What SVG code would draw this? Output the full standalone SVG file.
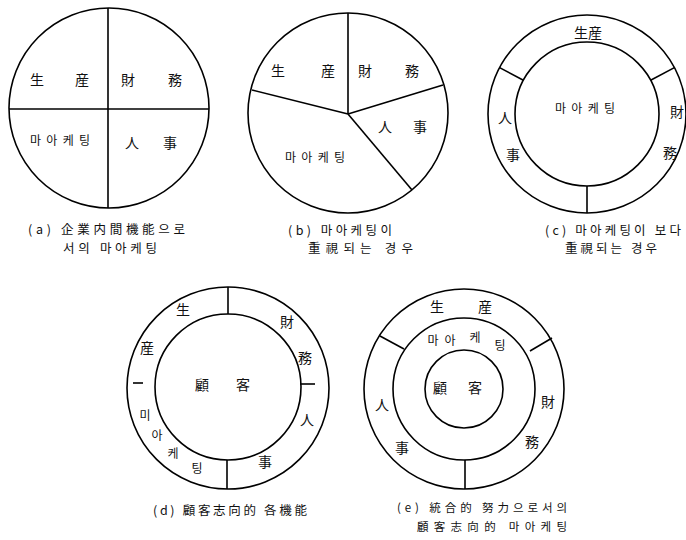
<svg xmlns="http://www.w3.org/2000/svg" width="686" height="540" viewBox="0 0 686 540">
<style>
.c{fill:none;stroke:#000;stroke-width:1.6}
.l{stroke:#000;stroke-width:1.6}
text{font-family:"Noto Sans CJK KR","Noto Sans CJK SC",sans-serif;fill:#111}
.t{font-size:14px;text-anchor:middle}
.h{font-size:12px;text-anchor:middle}
.cap{font-size:12.5px}
.cap2{font-size:11.5px}
</style>
<rect width="686" height="540" fill="#fff"/>
<g id="diagram-a">
<circle class="c" cx="109" cy="108" r="100"/>
<line class="l" x1="108" y1="8" x2="108" y2="208"/>
<line class="l" x1="9" y1="109" x2="209" y2="109"/>
<text class="t" x="37" y="85">生</text>
<text class="t" x="82" y="85">産</text>
<text class="t" x="128" y="85">財</text>
<text class="t" x="175" y="85">務</text>
<text class="h" x="60" y="145" textLength="60" lengthAdjust="spacing">마아케팅</text>
<text class="t" x="132" y="148">人</text>
<text class="t" x="170" y="148">事</text>
<text class="cap" x="28" y="234" textLength="157" lengthAdjust="spacing">(a) 企業内間機能으로</text>
<text class="cap" x="63" y="253" textLength="94" lengthAdjust="spacing">서의 마아케팅</text>
</g>
<g id="diagram-b">
<circle class="c" cx="348" cy="113" r="100"/>
<line class="l" x1="348" y1="114" x2="348" y2="13"/>
<line class="l" x1="348" y1="114" x2="252" y2="90"/>
<line class="l" x1="348" y1="114" x2="443" y2="85"/>
<line class="l" x1="348" y1="114" x2="412" y2="190"/>
<text class="t" x="278" y="76">生</text>
<text class="t" x="328" y="76">産</text>
<text class="t" x="365" y="76">財</text>
<text class="t" x="412" y="76">務</text>
<text class="t" x="385" y="132">人</text>
<text class="t" x="420" y="132">事</text>
<text class="h" x="315" y="162" textLength="60" lengthAdjust="spacing">마아케팅</text>
<text class="cap" x="288" y="235" textLength="104" lengthAdjust="spacing">(b) 마아케팅이</text>
<text class="cap" x="308" y="253" textLength="105" lengthAdjust="spacing">重視되는 경우</text>
</g>
<g id="diagram-c">
<circle class="c" cx="587" cy="114" r="99"/>
<circle class="c" cx="587" cy="114" r="72"/>
<line class="l" x1="523.4" y1="80.2" x2="499.6" y2="67.6"/>
<line class="l" x1="650.6" y1="80.2" x2="674.4" y2="67.6"/>
<line class="l" x1="587" y1="186" x2="587" y2="213"/>
<text class="t" x="588" y="38">生産</text>
<text class="h" x="585" y="113" textLength="60" lengthAdjust="spacing">마아케팅</text>
<text class="t" x="677" y="117">財</text>
<text class="t" x="670" y="158">務</text>
<text class="t" x="505" y="123">人</text>
<text class="t" x="513" y="160">事</text>
<text class="cap" x="545" y="235" textLength="136" lengthAdjust="spacing">(c) 마아케팅이 보다</text>
<text class="cap" x="565" y="253" textLength="92" lengthAdjust="spacing">重視되는 경우</text>
</g>
<g id="diagram-d">
<circle class="c" cx="228" cy="388" r="101"/>
<circle class="c" cx="228" cy="387" r="73"/>
<line class="l" x1="228" y1="287" x2="228" y2="314"/>
<line class="l" x1="227" y1="460" x2="227" y2="489"/>
<line class="l" x1="300" y1="384" x2="315" y2="384"/>
<line class="l" x1="133" y1="383" x2="143" y2="383" stroke-width="1.2"/>
<text class="t" x="183" y="315">生</text>
<text class="t" x="287" y="327">財</text>
<text class="t" x="305" y="363">務</text>
<text class="t" x="147" y="353">産</text>
<text class="h" x="145" y="420">미</text>
<text class="h" x="157" y="440">아</text>
<text class="h" x="173" y="458">케</text>
<text class="h" x="197" y="473">팅</text>
<text class="t" x="307" y="425">人</text>
<text class="t" x="265" y="467">事</text>
<text class="t" x="202" y="390">顧</text>
<text class="t" x="243" y="390">客</text>
<text class="cap" x="153" y="515" textLength="154" lengthAdjust="spacing">(d) 顧客志向的 各機能</text>
</g>
<g id="diagram-e">
<circle class="c" cx="464" cy="389" r="100"/>
<circle class="c" cx="464" cy="389" r="71"/>
<circle class="c" cx="464" cy="389" r="39"/>
<line class="l" x1="380" y1="336" x2="404" y2="349"/>
<line class="l" x1="552" y1="338" x2="530" y2="351"/>
<line class="l" x1="465" y1="460" x2="465" y2="489"/>
<text class="t" x="437" y="312">生</text>
<text class="t" x="485" y="312">産</text>
<text class="h" x="433" y="345">마</text>
<text class="h" x="450" y="345">아</text>
<text class="h" x="475" y="342">케</text>
<text class="h" x="500" y="350">팅</text>
<text class="t" x="440" y="393">顧</text>
<text class="t" x="475" y="393">客</text>
<text class="t" x="382" y="410">人</text>
<text class="t" x="402" y="453">事</text>
<text class="t" x="548" y="407">財</text>
<text class="t" x="532" y="447">務</text>
<text class="cap2" x="397" y="512" textLength="170" lengthAdjust="spacing">(e) 統合的 努力으로서의</text>
<text class="cap2" x="417" y="531" textLength="150" lengthAdjust="spacing">顧客志向的 마아케팅</text>
</g>
<g id="connectors"></g>
</svg>
